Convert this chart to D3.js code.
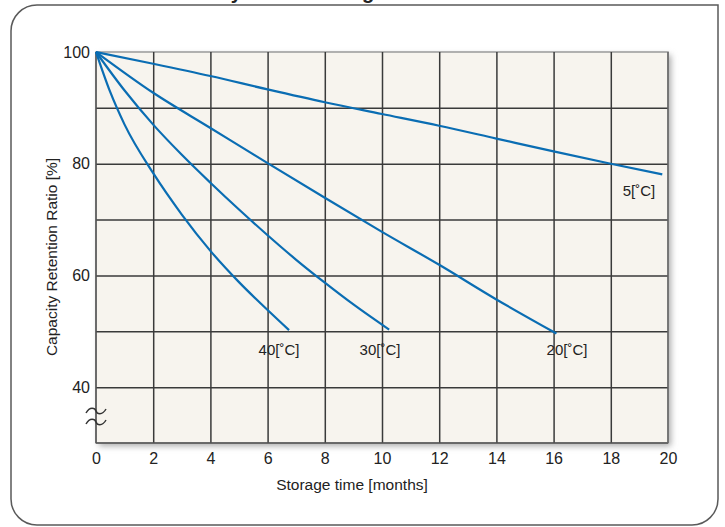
<!DOCTYPE html>
<html>
<head>
<meta charset="utf-8">
<script src="https://cdn.jsdelivr.net/npm/d3@7"></script>
<style>
  body { margin: 0; background: #fff; }
  svg { display: block; font-family: "Liberation Sans", Arial, sans-serif; }
</style>
</head>
<body>
<div id="chart"></div>
<script>
// storage time in months, capacity retention in %
var months5 = [0, 2, 4, 6, 8, 10, 12, 14, 16, 18, 19.8];
var ratio5 = [100, 97.9, 95.7, 93.3, 91, 88.9, 86.8, 84.5, 82.2, 80, 78.1];
var months20 = [0, 2, 4, 6, 8, 10, 12, 14, 16.1];
var ratio20 = [100, 92.7, 86.4, 80.1, 73.9, 67.8, 61.9, 55.7, 49.6];
var months30 = [0, 1, 2, 3, 4, 5, 6, 7, 8, 9, 10.25];
var ratio30 = [100, 93.1, 87, 81.6, 76.6, 71.8, 67.2, 62.8, 58.7, 54.8, 50.3];
var months40 = [0, 0.5, 1, 2, 3, 4, 5, 6, 6.75];
var ratio40 = [100, 92.8, 87, 78.3, 70.9, 64.4, 58.8, 53.8, 50.2];

var seriesNames = ["5[˚C]", "20[˚C]", "30[˚C]", "40[˚C]"];
var xTicks = [0, 2, 4, 6, 8, 10, 12, 14, 16, 18, 20];
var yTicks = [40, 60, 80, 100];
var yGrid = [40, 50, 60, 70, 80, 90];

var width = 725, height = 527;
var plotL = 96, plotR = 668, plotT = 52, plotB = 443;

var x = d3.scaleLinear().domain([0, 20]).range([plotL, plotR]);
var y = d3.scaleLinear().domain([30, 100]).range([plotB, plotT]);

var svg = d3.select("#chart").append("svg")
  .attr("width", width)
  .attr("height", height);

var defs = svg.append("defs");
var blur = defs.append("filter").attr("id", "shadow")
  .attr("x", "-5%").attr("y", "-5%").attr("width", "115%").attr("height", "115%");
blur.append("feGaussianBlur").attr("stdDeviation", 3);

// frame with three rounded corners
var r = 26, bx0 = 11, by0 = 5, bx1 = 718, by1 = 525;
svg.append("path")
  .attr("d", "M" + (bx0 + r) + "," + by0 + " H" + bx1 + " V" + (by1 - r) +
    " A" + r + "," + r + " 0 0 1 " + (bx1 - r) + "," + by1 +
    " H" + (bx0 + r) + " A" + r + "," + r + " 0 0 1 " + bx0 + "," + (by1 - r) +
    " V" + (by0 + r) + " A" + r + "," + r + " 0 0 1 " + (bx0 + r) + "," + by0 + " Z")
  .attr("fill", "#fff")
  .attr("stroke", "#5a5a5a")
  .attr("stroke-width", 1.5);

// title, mostly above the picture
svg.append("text")
  .attr("x", 173).attr("y", -1)
  .attr("font-size", 20).attr("font-weight", "bold").attr("fill", "#222")
  .text("Battery Self-discharge Characteristics");

// plot area with soft shadow
svg.append("rect")
  .attr("x", plotL + 3).attr("y", plotT + 3)
  .attr("width", plotR - plotL).attr("height", plotB - plotT)
  .attr("fill", "#aaa").attr("filter", "url(#shadow)");
svg.append("rect")
  .attr("x", plotL).attr("y", plotT)
  .attr("width", plotR - plotL).attr("height", plotB - plotT)
  .attr("fill", "#f7f4ee")
  .attr("stroke", "#9a9a9a").attr("stroke-width", 1.5);

// grid
svg.append("g").attr("class", "grid")
  .attr("transform", "translate(0," + plotB + ")")
  .call(d3.axisBottom(x).tickValues(xTicks.slice(1, -1)).tickSize(-(plotB - plotT)).tickFormat(""))
  .call(function(g) { g.select(".domain").remove(); });
svg.append("g").attr("class", "grid")
  .attr("transform", "translate(" + plotL + ",0)")
  .call(d3.axisLeft(y).tickValues(yGrid).tickSize(-(plotR - plotL)).tickFormat(""))
  .call(function(g) { g.select(".domain").remove(); });
svg.selectAll(".grid line").attr("stroke", "#3a3a3a").attr("stroke-width", 1.5);

// border lines on top of grid
svg.append("line").attr("x1", plotL).attr("x2", plotL).attr("y1", plotT).attr("y2", plotB)
  .attr("stroke", "#555").attr("stroke-width", 1.5);
svg.append("line").attr("x1", plotL).attr("x2", plotR).attr("y1", plotB).attr("y2", plotB)
  .attr("stroke", "#555").attr("stroke-width", 1.5);
svg.append("line").attr("x1", plotR).attr("x2", plotR).attr("y1", plotT).attr("y2", plotB)
  .attr("stroke", "#666").attr("stroke-width", 1.5);

// tick labels
svg.append("g")
  .attr("transform", "translate(0," + plotB + ")")
  .call(d3.axisBottom(x).tickValues(xTicks).tickSize(0).tickPadding(10))
  .call(function(g) { g.select(".domain").remove(); })
  .selectAll("text").attr("font-size", 16).attr("fill", "#222")
  .attr("font-family", "'Liberation Sans', Arial, sans-serif");
svg.append("g")
  .attr("transform", "translate(" + plotL + ",0)")
  .call(d3.axisLeft(y).tickValues(yTicks).tickSize(0).tickPadding(6))
  .call(function(g) { g.select(".domain").remove(); })
  .selectAll("text").attr("font-size", 16).attr("fill", "#222")
  .attr("font-family", "'Liberation Sans', Arial, sans-serif");

// axis break
[411, 422].forEach(function(cy) {
  svg.append("path")
    .attr("d", "M" + (plotL - 10) + "," + (cy + 2) +
      " C" + (plotL - 6) + "," + (cy - 5) + " " + (plotL - 1) + "," + (cy - 3) + " " + plotL + "," + cy +
      " S" + (plotL + 6) + "," + (cy + 5) + " " + (plotL + 10) + "," + (cy - 2))
    .attr("fill", "none").attr("stroke", "#333").attr("stroke-width", 1.5);
});

// curves
var series = [
  { name: seriesNames[0], t: months5, v: ratio5, lx: 639, ly: 196 },
  { name: seriesNames[1], t: months20, v: ratio20, lx: 567, ly: 355 },
  { name: seriesNames[2], t: months30, v: ratio30, lx: 380, ly: 355 },
  { name: seriesNames[3], t: months40, v: ratio40, lx: 279, ly: 355 }
];

var line = d3.line()
  .x(function(d) { return x(d[0]); })
  .y(function(d) { return y(d[1]); })
  .curve(d3.curveMonotoneX);

series.forEach(function(s) {
  var pts = s.t.map(function(t, i) { return [t, s.v[i]]; });
  svg.append("path")
    .attr("d", line(pts))
    .attr("fill", "none")
    .attr("stroke", "#0a6db3")
    .attr("stroke-width", 2.2);
  svg.append("text")
    .attr("x", s.lx).attr("y", s.ly)
    .attr("text-anchor", "middle")
    .attr("font-size", 15).attr("fill", "#222")
    .text(s.name);
});

// axis titles
svg.append("text")
  .attr("x", 352).attr("y", 490)
  .attr("text-anchor", "middle")
  .attr("font-size", 15.5).attr("fill", "#222")
  .text("Storage time [months]");
svg.append("text")
  .attr("transform", "translate(57,257) rotate(-90)")
  .attr("text-anchor", "middle")
  .attr("font-size", 15.5).attr("fill", "#222")
  .text("Capacity Retention Ratio [%]");
</script>
</body>
</html>
